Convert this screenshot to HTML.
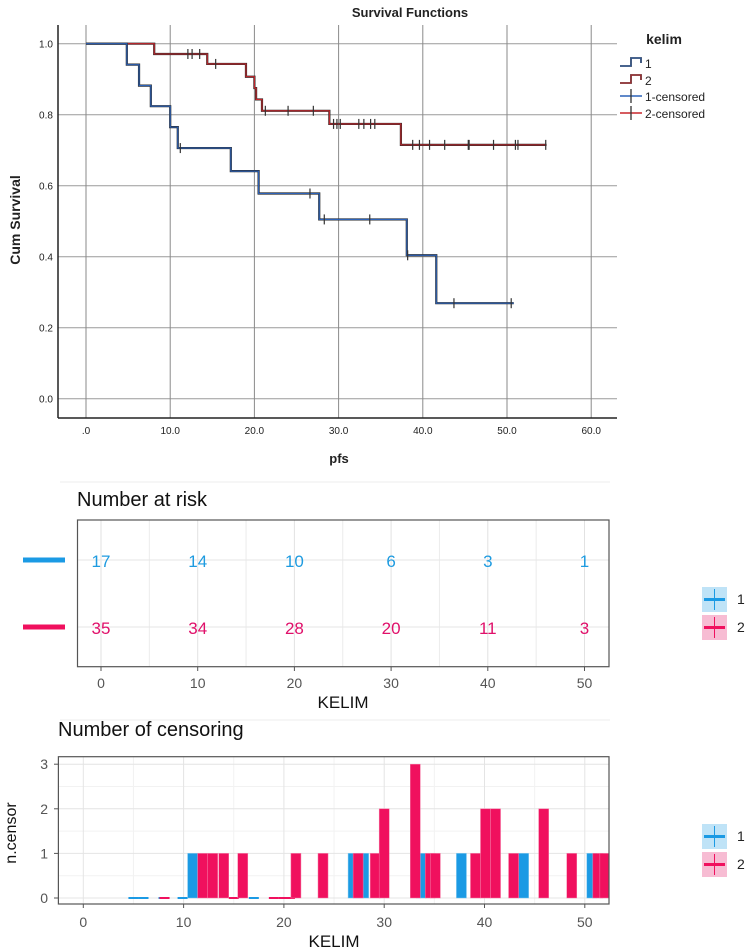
<!DOCTYPE html>
<html><head><meta charset="utf-8"><style>
body{margin:0;background:#fff;}
svg{display:block;font-family:"Liberation Sans",sans-serif;}
</style></head><body>
<svg id="c" width="750" height="952" viewBox="0 0 750 952"></svg>
<script>
// ---- KM data ----
const km1Times=[0,4.85,6.3,7.7,10.0,10.9,17.2,20.5,27.7,38.1,41.6];
const km1Surv=[1.0,0.941,0.882,0.824,0.765,0.706,0.641,0.578,0.505,0.404,0.269];
const km1End=50.8;
const km1Cens=[11.2,26.6,28.3,33.7,38.2,43.7,50.5];
const km2Times=[0,8.1,14.4,19.0,20.0,20.2,20.9,28.9,37.4];
const km2Surv=[1.0,0.971,0.943,0.907,0.875,0.843,0.811,0.774,0.715];
const km2End=54.7;
const km2Cens=[12.1,12.6,13.5,15.4,21.3,24.0,27.0,29.4,29.8,30.2,32.4,33.0,33.8,34.3,38.8,39.6,40.8,42.6,45.4,45.5,48.4,51.0,51.3,54.6];
const kmXTicks=[0,10,20,30,40,50,60];
const kmXLabels=[".0","10.0","20.0","30.0","40.0","50.0","60.0"];
const kmYTicks=[0,0.2,0.4,0.6,0.8,1.0];
// ---- risk table ----
const riskTimes=[0,10,20,30,40,50];
const risk1=[17,14,10,6,3,1];
const risk2=[35,34,28,20,11,3];
// ---- censoring ----
const cens1T=[10.9,26.9,27.95,33.7,37.7,43.9,50.7];
const cens1N=[1,1,1,1,1,1,1];
const zero1T=[5.0,6.0,8.0,9.9,17.0];
const cens2T=[11.9,12.9,14.0,15.9,21.2,23.9,27.4,29.1,30.0,33.1,34.6,35.1,39.1,40.1,41.1,42.9,45.9,48.7,51.3,52.0];
const cens2N=[1,1,1,1,1,1,1,1,2,3,1,1,1,2,2,1,2,1,1,1];
const zero2T=[8.1,15.0,19.0,20.0,20.6];
const censYTicks=[0,1,2,3];
const censXTicks=[0,10,20,30,40,50];

const S=document.getElementById('c');const NS="http://www.w3.org/2000/svg";
function el(t,a,p){const e=document.createElementNS(NS,t);for(const k in a)e.setAttribute(k,a[k]);(p||S).appendChild(e);return e;}
function tx(s,a,p){const e=el('text',a,p);e.textContent=s;return e;}

// ===== Top KM chart =====
const kx=t=>86+8.42*t, ky=s=>398.7-355*s;
const g1=el('g',{});


tx('Survival Functions',{x:410,y:17,'text-anchor':'middle','font-size':13,'font-weight':'bold',fill:'#222'},g1);
kmYTicks.forEach(v=>{const l=el('line',{x1:58,x2:617,y1:ky(v),y2:ky(v),stroke:'#9a9a9a','stroke-width':1},g1);
 const t=tx(v.toFixed(1),{x:46,y:ky(v)+4,'text-anchor':'middle','font-size':10,fill:'#222'},g1);});
kmXTicks.forEach((v,i)=>{const l=el('line',{x1:kx(v),x2:kx(v),y1:25,y2:418,stroke:'#8a8a8a','stroke-width':1},g1);
 const t=tx(kmXLabels[i],{x:kx(v),y:434,'text-anchor':'middle','font-size':10,fill:'#222'},g1);});
el('line',{x1:58,x2:58,y1:25,y2:418,stroke:'#222','stroke-width':1.5},g1);
el('line',{x1:58,x2:617,y1:418,y2:418,stroke:'#222','stroke-width':1.5},g1);
const xt=tx('pfs',{x:339,y:463,'text-anchor':'middle','font-size':13,'font-weight':'bold',fill:'#222'},g1);

const yt=tx('Cum Survival',{x:0,y:0,transform:'translate(20,220) rotate(-90)','text-anchor':'middle','font-size':14,'font-weight':'bold',fill:'#222'},g1);

function stepPath(T,Sv,end){let d='M'+kx(T[0])+' '+ky(Sv[0]);for(let i=1;i<T.length;i++){d+=' H'+kx(T[i])+' V'+ky(Sv[i]);}d+=' H'+kx(end);return d;}
function survAt(T,Sv,t){let s=Sv[0];for(let i=0;i<T.length;i++)if(T[i]<=t)s=Sv[i];return s;}
[[km2Times,km2Surv,km2End,km2Cens,'#c8262c','curve-group-2'],[km1Times,km1Surv,km1End,km1Cens,'#2c62b8','curve-group-1']].forEach(([T,Sv,E,C,col,nm])=>{
 const p=el('path',{d:stepPath(T,Sv,E),fill:'none',stroke:'#2a2a2a','stroke-width':2.2},g1);
 
 const p2=el('path',{d:stepPath(T,Sv,E),fill:'none',stroke:col,'stroke-width':1.1},g1);
 
 C.forEach(t=>{const y=ky(survAt(T,Sv,t));const m=el('line',{x1:kx(t),x2:kx(t),y1:y-5,y2:y+5,stroke:'#333','stroke-width':1.2},g1);});
});
// legend
const lg=el('g',{});

tx('kelim',{x:664,y:44,'text-anchor':'middle','font-size':14,'font-weight':'bold',fill:'#222'},lg);
[['1','#2c62b8',63,'step'],['2','#c8262c',80,'step'],['1-censored','#2c62b8',96,'cross'],['2-censored','#c8262c',113,'cross']].forEach(([lab,col,y,k])=>{
 const gi=el('g',{},lg);
 if(k==='step'){el('path',{d:`M620 ${y+3} H631 V${y-5} H641 V${y}`,fill:'none',stroke:'#333','stroke-width':1.8},gi);el('path',{d:`M620 ${y+3} H631 V${y-5} H641 V${y}`,fill:'none',stroke:col,'stroke-width':0.9},gi);}
 else{el('line',{x1:620,x2:642,y1:y,y2:y,stroke:col,'stroke-width':1.5},gi);el('line',{x1:631,x2:631,y1:y-7,y2:y+7,stroke:'#333','stroke-width':1.3},gi);}
 tx(lab,{x:645,y:y+5,'font-size':12,fill:'#222'},gi);
});

// ===== Risk table =====
el('line',{x1:60,x2:610,y1:482,y2:482,stroke:'#eee','stroke-width':1});
el('line',{x1:60,x2:610,y1:720,y2:720,stroke:'#eee','stroke-width':1});
const rg=el('g',{});

const rx=t=>101+9.67*t;
tx('Number at risk',{x:77,y:506,'font-size':20,fill:'#111'},rg);
[5,15,25,35,45].forEach(v=>el('line',{x1:rx(v),x2:rx(v),y1:520,y2:667,stroke:'#ececec'},rg));
riskTimes.forEach(v=>el('line',{x1:rx(v),x2:rx(v),y1:520,y2:667,stroke:'#e2e2e2'},rg));
el('line',{x1:77.5,x2:609,y1:560,y2:560,stroke:'#e6e6e6'},rg);
el('line',{x1:77.5,x2:609,y1:627,y2:627,stroke:'#e6e6e6'},rg);
el('rect',{x:77.5,y:520,width:531.5,height:146.7,fill:'none',stroke:'#555','stroke-width':1.2},rg);
const d1=el('rect',{x:23,y:557.5,width:42,height:5,fill:'#1b9ae4'},rg);
const d2=el('rect',{x:23,y:624.5,width:42,height:5,fill:'#f0105e'},rg);
riskTimes.forEach((v,i)=>{
 const a=tx(String(risk1[i]),{x:rx(v),y:567,'text-anchor':'middle','font-size':17,fill:'#1e9be0'},rg);
 const b=tx(String(risk2[i]),{x:rx(v),y:634,'text-anchor':'middle','font-size':17,fill:'#e0106a'},rg);
 el('line',{x1:rx(v),x2:rx(v),y1:667,y2:671,stroke:'#555'},rg);
 tx(String(v),{x:rx(v),y:688,'text-anchor':'middle','font-size':14,fill:'#555'},rg);
});
tx('KELIM',{x:343,y:708,'text-anchor':'middle','font-size':17,fill:'#111'},rg);
function legend2(y0,nm){const g=el('g',{});
 [['1','#1b9ae4','#bfe3f7',y0],['2','#f0105e','#f7bcd3',y0+28]].forEach(([l,c,bg,y])=>{
  el('rect',{x:702,y:y,width:25,height:25,fill:bg},g);
  el('line',{x1:704,x2:725,y1:y+12.5,y2:y+12.5,stroke:c,'stroke-width':3},g);
  el('line',{x1:714.5,x2:714.5,y1:y+2,y2:y+23,stroke:c,'stroke-width':1},g);
  tx(l,{x:737,y:y+17,'font-size':14,fill:'#222'},g);});}
legend2(587,'risk-legend');

// ===== Censoring chart =====
const cg=el('g',{});

const cx=t=>83.3+10.03*t, cy=n=>898-44.6*n;
tx('Number of censoring',{x:58,y:736,'font-size':20,fill:'#111'},cg);
[0.5,1.5,2.5].forEach(v=>el('line',{x1:58.4,x2:609,y1:cy(v),y2:cy(v),stroke:'#f2f2f2'},cg));
[5,15,25,35,45].forEach(v=>el('line',{x1:cx(v),x2:cx(v),y1:757,y2:904,stroke:'#f2f2f2'},cg));
censYTicks.forEach(v=>{el('line',{x1:58.4,x2:609,y1:cy(v),y2:cy(v),stroke:'#e4e4e4'},cg);el('line',{x1:54,x2:58.4,y1:cy(v),y2:cy(v),stroke:'#555'},cg);
 tx(String(v),{x:48,y:cy(v)+5,'text-anchor':'end','font-size':14,fill:'#555'},cg);});
censXTicks.forEach(v=>{el('line',{x1:cx(v),x2:cx(v),y1:757,y2:904,stroke:'#e4e4e4'},cg);el('line',{x1:cx(v),x2:cx(v),y1:904,y2:908,stroke:'#555'},cg);
 tx(String(v),{x:cx(v),y:927,'text-anchor':'middle','font-size':14,fill:'#555'},cg);});
const bw=10.03;
zero1T.forEach(t=>el('rect',{x:cx(t)-bw/2,y:cy(0)-1,width:bw,height:2,fill:'#1b9ae4'},cg));
zero2T.forEach(t=>el('rect',{x:cx(t)-bw/2,y:cy(0)-1,width:bw,height:2,fill:'#f0105e'},cg));
cens1T.forEach((t,i)=>{const r=el('rect',{x:cx(t)-bw/2,y:cy(cens1N[i]),width:bw,height:cy(0)-cy(cens1N[i]),fill:'#1b9ae4',stroke:'#7cc6ef','stroke-width':0.5},cg);});
cens2T.forEach((t,i)=>{const r=el('rect',{x:cx(t)-bw/2,y:cy(cens2N[i]),width:bw,height:cy(0)-cy(cens2N[i]),fill:'#f0105e',stroke:'#f57aa6','stroke-width':0.5},cg);});
el('rect',{x:0,y:740,width:58,height:170,fill:'#fff'},cg);
censYTicks.forEach(v=>{el('line',{x1:54,x2:58.4,y1:cy(v),y2:cy(v),stroke:'#555'},cg);tx(String(v),{x:48,y:cy(v)+5,'text-anchor':'end','font-size':14,fill:'#555'},cg);});
el('rect',{x:609.5,y:740,width:30,height:170,fill:'#fff'},cg);
el('rect',{x:58.4,y:756.7,width:550.6,height:147.3,fill:'none',stroke:'#555','stroke-width':1.2},cg);
tx('KELIM',{x:334,y:947,'text-anchor':'middle','font-size':17,fill:'#111'},cg);
tx('n.censor',{x:0,y:0,transform:'translate(16,833) rotate(-90)','text-anchor':'middle','font-size':16,fill:'#111'},cg);
legend2(824,'censoring-legend');
</script>
</body></html>
